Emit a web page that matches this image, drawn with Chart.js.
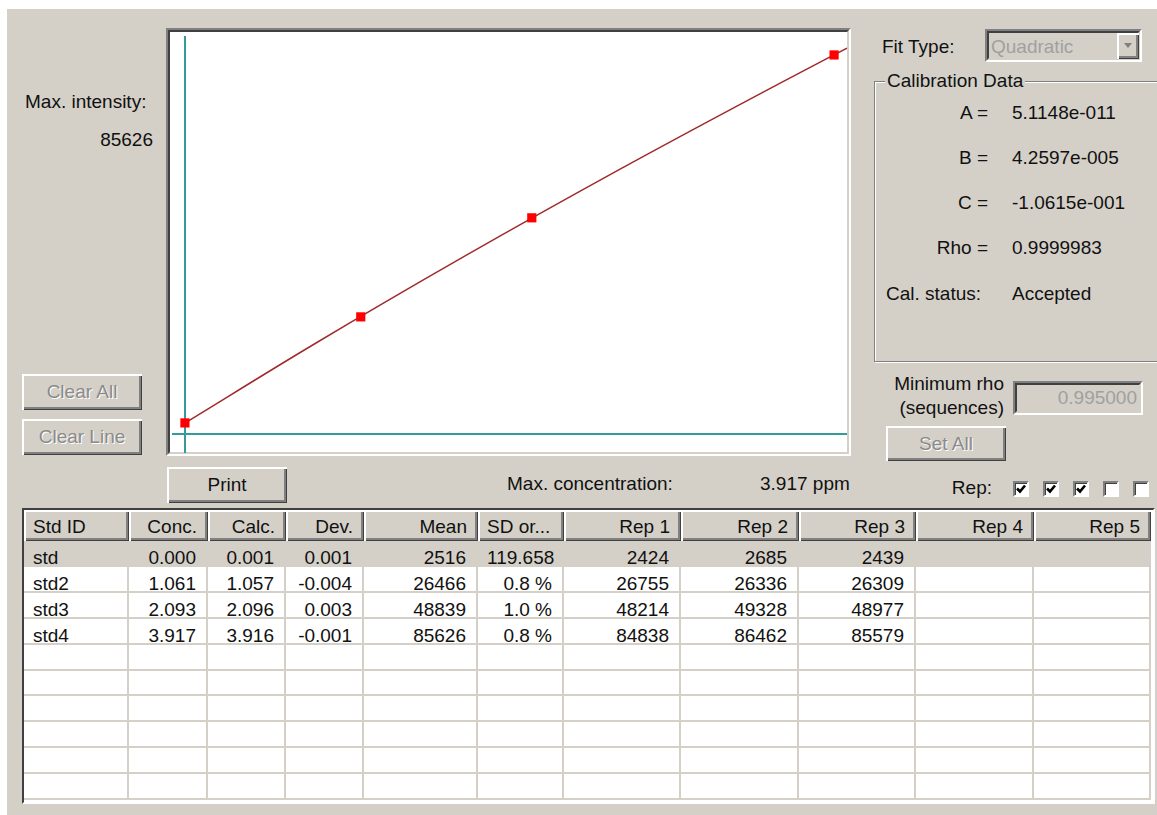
<!DOCTYPE html>
<html><head><meta charset="utf-8">
<script src="https://cdn.jsdelivr.net/npm/chart.js@4/dist/chart.umd.min.js"></script>
<style>
html,body{margin:0;padding:0;background:#fff;}
body{width:1157px;height:815px;position:relative;overflow:hidden;font-family:"Liberation Sans",Arial,sans-serif;font-size:19px;color:#111;}
#dlg{position:absolute;left:7px;top:9px;width:1150px;height:806px;background:#d4d0c8;}
.a{position:absolute;white-space:nowrap;line-height:20px;}
.r{text-align:right;}
.sunk{position:absolute;box-sizing:border-box;border-style:solid;border-width:2px;border-color:#808080 #fff #fff #808080;}
.sunk>.in{position:absolute;left:0;top:0;right:0;bottom:0;border-style:solid;border-width:2px;border-color:#404040 #d4d0c8 #d4d0c8 #404040;}
.btn{position:absolute;box-sizing:border-box;background:#d4d0c8;box-shadow:inset 2px 2px 0 #fff,inset -1px -1px 0 #404040,inset -3px -3px 0 #808080;display:flex;align-items:center;justify-content:center;line-height:20px;}
.dis{color:#8a8a8a;text-shadow:1px 1px 0 #fff;}
.grp{position:absolute;box-sizing:border-box;border:1px solid #808080;box-shadow:1px 1px 0 #fff,inset 1px 1px 0 #fff;}
.cb{position:absolute;width:16px;height:16px;box-sizing:border-box;background:#fff;border-style:solid;border-width:2px;border-color:#808080 #fff #fff #808080;box-shadow:inset 1px 1px 0 #404040;}
#tbl{position:absolute;left:22px;top:508px;width:1133px;height:296px;box-sizing:border-box;border-style:solid;border-width:2px;border-color:#404040 #fff #fff #404040;background:#fff;overflow:hidden;}
.hc{position:absolute;box-sizing:border-box;background:#d4d0c8;box-shadow:inset 2px 2px 0 #fff,inset -1px -1px 0 #404040,inset -3px -3px 0 #808080;line-height:34px;padding:0 11px 0 9px;white-space:nowrap;}
.dc{position:absolute;box-sizing:border-box;border-right:2px solid #d4d0c8;border-bottom:2px solid #d4d0c8;padding:0 10px 0 9px;white-space:nowrap;}
</style></head>
<body>
<div id="dlg"></div>

<div class="a" style="left:25px;top:92px;">Max. intensity:</div>
<div class="a r" style="left:0;width:153px;top:130px;" id="maxInt"></div>

<div class="sunk" style="left:166px;top:28px;width:685px;height:428px;"><div class="in" style="background:#fff;"></div></div>
<div style="position:absolute;left:172px;top:36px;width:675px;height:417px;">
  <canvas id="c" width="675" height="417"></canvas>
</div>

<div class="btn dis" style="left:22px;top:374px;width:120px;height:36px;">Clear All</div>
<div class="btn dis" style="left:22px;top:419px;width:120px;height:36px;">Clear Line</div>
<div class="btn" style="left:167px;top:467px;width:120px;height:36px;">Print</div>

<div class="a" style="left:507px;top:474px;">Max. concentration:</div>
<div class="a" style="left:760px;top:474px;" id="maxConc"></div>

<div class="a" style="left:882px;top:37px;">Fit Type:</div>
<div class="sunk" style="left:985px;top:29px;width:157px;height:33px;"><div class="in" style="background:#d4d0c8;"></div></div>
<div class="a" style="left:991px;top:37px;color:#a0a0a0;">Quadratic</div>
<div class="btn" style="left:1117px;top:33px;width:22px;height:26px;">
  <svg width="10" height="6" viewBox="0 0 10 6"><polygon points="1,0 9,0 5,5" fill="#808080"/></svg>
</div>

<div class="grp" style="left:874px;top:81px;width:290px;height:281px;"></div>
<div class="a" style="left:885px;top:71px;background:#d4d0c8;padding:0 2px;">Calibration Data</div>
<div class="a r" style="left:900px;width:88px;top:103px;">A =</div>
<div class="a" style="left:1012px;top:103px;" id="cA"></div>
<div class="a r" style="left:900px;width:88px;top:148px;">B =</div>
<div class="a" style="left:1012px;top:148px;" id="cB"></div>
<div class="a r" style="left:900px;width:88px;top:193px;">C =</div>
<div class="a" style="left:1012px;top:193px;" id="cC"></div>
<div class="a r" style="left:900px;width:88px;top:238px;">Rho =</div>
<div class="a" style="left:1012px;top:238px;" id="cRho"></div>
<div class="a" style="left:886px;top:284px;">Cal. status:</div>
<div class="a" style="left:1012px;top:284px;" id="cStat"></div>

<div class="a r" style="left:860px;width:144px;top:374px;">Minimum rho</div>
<div class="a r" style="left:860px;width:144px;top:398px;">(sequences)</div>
<div class="sunk" style="left:1013px;top:381px;width:130px;height:34px;"><div class="in" style="background:#d4d0c8;"></div></div>
<div class="a r" style="left:1013px;width:124px;top:388px;color:#a0a0a0;" id="minRho"></div>
<div class="btn dis" style="left:886px;top:426px;width:120px;height:35px;">Set All</div>

<div class="a r" style="left:900px;width:92px;top:478px;">Rep:</div>
<div id="cbs"></div>

<div id="tbl"></div>

<script>
// ---- data ----
const stdIds = ['std', 'std2', 'std3', 'std4'];
const concValues = [0.000, 1.061, 2.093, 3.917];
const calcValues = [0.001, 1.057, 2.096, 3.916];
const devValues = [0.001, -0.004, 0.003, -0.001];
const meanIntensity = [2516, 26466, 48839, 85626];
const sdValues = ['119.658', '0.8 %', '1.0 %', '0.8 %'];
const rep1Values = [2424, 26755, 48214, 84838];
const rep2Values = [2685, 26336, 49328, 86462];
const rep3Values = [2439, 26309, 48977, 85579];
// fitted calibration curve (concentration vs intensity)
const fitConc = [0.000, 0.766, 1.680, 2.634, 3.629, 3.995];
const fitIntensity = [2492, 20000, 40000, 60000, 80000, 87155];
const xRange = [-0.078, 3.995];
const yRange = [-4281, 89907];
const colHeaders = ['Std ID', 'Conc.', 'Calc.', 'Dev.', 'Mean', 'SD or...', 'Rep 1', 'Rep 2', 'Rep 3', 'Rep 4', 'Rep 5'];
const colAlign = ['l', 'r', 'r', 'r', 'r', 'l', 'r', 'r', 'r', 'r', 'r'];
const colEdges = [24, 129, 208, 286, 364, 478, 564, 681, 799, 916, 1034, 1151];
const repChecked = [true, true, true, false, false];
const calA = '5.1148e-011', calB = '4.2597e-005', calC = '-1.0615e-001', calRho = '0.9999983', calStatus = 'Accepted';
const minRho = '0.995000';
const maxIntensityText = '85626';
const maxConcText = '3.917 ppm';
const emptyRows = 6;

document.getElementById('maxInt').textContent = maxIntensityText;
document.getElementById('maxConc').textContent = maxConcText;
document.getElementById('cA').textContent = calA;
document.getElementById('cB').textContent = calB;
document.getElementById('cC').textContent = calC;
document.getElementById('cRho').textContent = calRho;
document.getElementById('cStat').textContent = calStatus;
document.getElementById('minRho').textContent = minRho;

// checkboxes
const cbs = document.getElementById('cbs');
repChecked.forEach((on, i) => {
  const d = document.createElement('div');
  d.className = 'cb';
  d.style.left = (1013 + i * 30) + 'px';
  d.style.top = '481px';
  if (on) d.innerHTML = '<svg width="12" height="12" viewBox="0 0 12 12" style="position:absolute;left:0;top:0"><polyline points="2,5.5 5,8.5 10,2.5" fill="none" stroke="#000" stroke-width="2.6"/></svg>';
  cbs.appendChild(d);
});

// table
const tbl = document.getElementById('tbl');
const ox = 24, oy = 510; // inner origin of table
const headerH = 31;
const rowH = 25.9;
colHeaders.forEach((h, c) => {
  const d = document.createElement('div');
  d.className = 'hc';
  d.style.left = (colEdges[c] - ox) + 'px';
  d.style.width = (colEdges[c + 1] - colEdges[c]) + 'px';
  d.style.top = '0px';
  d.style.height = headerH + 'px';
  d.style.textAlign = colAlign[c] === 'r' ? 'right' : 'left';
  d.textContent = h;
  tbl.appendChild(d);
});
const nRows = stdIds.length + emptyRows;
for (let r = 0; r < nRows; r++) {
  const top = Math.round(headerH + r * rowH);
  const h = Math.round(headerH + (r + 1) * rowH) - top;
  let vals;
  if (r < stdIds.length) {
    vals = [stdIds[r], concValues[r].toFixed(3), calcValues[r].toFixed(3), devValues[r].toFixed(3),
      String(meanIntensity[r]), sdValues[r], String(rep1Values[r]), String(rep2Values[r]), String(rep3Values[r]), '', ''];
  } else {
    vals = ['', '', '', '', '', '', '', '', '', '', ''];
  }
  const bg = r === 0 ? '#d4d0c8' : null;
  vals.forEach((v, c) => {
    const al = c === 5 ? 'r' : colAlign[c];
    const d = document.createElement('div');
    d.className = 'dc';
    d.style.left = (colEdges[c] - ox) + 'px';
    d.style.width = (colEdges[c + 1] - colEdges[c]) + 'px';
    d.style.top = top + 'px';
    d.style.height = h + 'px';
    d.style.lineHeight = (h + 7) + 'px';
    d.style.textAlign = al === 'r' ? 'right' : 'left';
    if (bg) d.style.background = bg;
    d.textContent = v;
    tbl.appendChild(d);
  });
}

// chart
const zeroOnly = (axis) => { axis.ticks = [{ value: 0 }]; };
new Chart(document.getElementById('c'), {
  type: 'scatter',
  data: {
    datasets: [
      {
        label: 'Standards',
        data: concValues.map((c, i) => ({ x: c, y: meanIntensity[i] })),
        pointStyle: 'rect',
        pointRadius: 6.5,
        pointBackgroundColor: '#ff0000',
        pointBorderWidth: 0,
        showLine: false
      },
      {
        label: 'Fit',
        type: 'line',
        data: fitConc.map((c, i) => ({ x: c, y: fitIntensity[i] })),
        borderColor: '#a02a2a',
        borderWidth: 1.5,
        pointRadius: 0,
        tension: 0.4,
        cubicInterpolationMode: 'monotone',
        fill: false
      }
    ]
  },
  options: {
    responsive: false,
    animation: false,
    events: [],
    layout: { padding: 0, autoPadding: false },
    plugins: { legend: { display: false }, tooltip: { enabled: false } },
    scales: {
      x: {
        type: 'linear', min: xRange[0], max: xRange[1],
        afterBuildTicks: zeroOnly,
        ticks: { display: false },
        border: { display: false },
        grid: { color: '#349a9a', lineWidth: 2, drawTicks: false }
      },
      y: {
        type: 'linear', min: yRange[0], max: yRange[1],
        afterBuildTicks: zeroOnly,
        ticks: { display: false },
        border: { display: false },
        grid: { color: '#349a9a', lineWidth: 2, drawTicks: false }
      }
    }
  }
});
</script>
</body></html>
